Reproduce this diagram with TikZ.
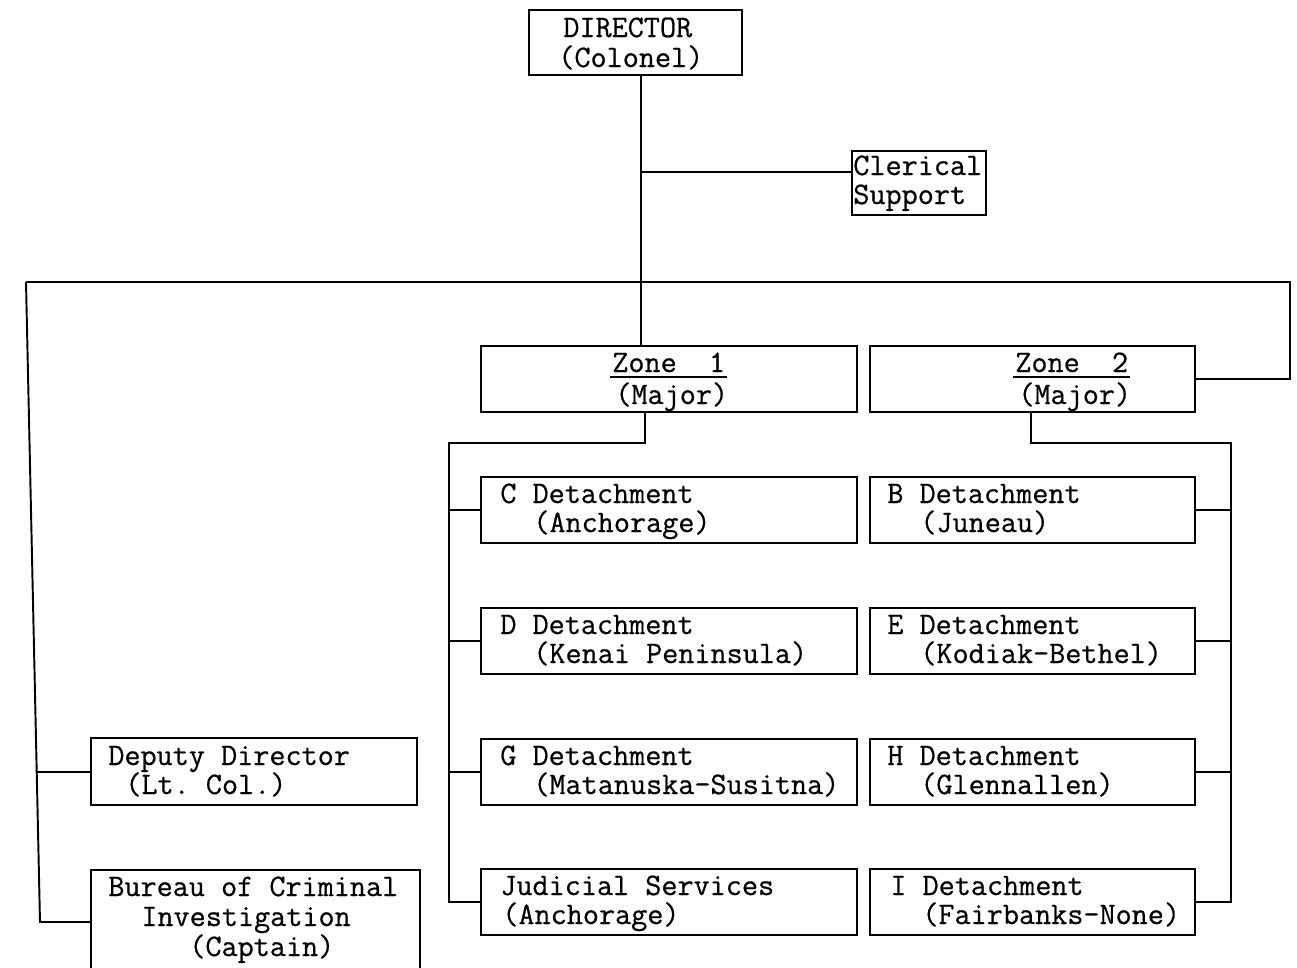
\documentclass[tikz,border=0pt]{standalone}
\usepackage{fontspec}
\setmonofont[FakeBold=0.6]{Latin Modern Mono}
\frenchspacing
\begin{document}
\begin{tikzpicture}[x=0.02cm,y=-0.02cm,
  bx/.style 2 args={draw=black, line width=1.1pt, minimum width=#1*0.02cm, minimum height=#2*0.02cm, inner sep=0pt, outer sep=0pt, anchor=north west},
  tx/.style={anchor=base west, inner sep=0pt, font=\ttfamily\fontsize{17.8}{19}\selectfont},
  cn/.style={draw=black, line width=1.1pt},
  ul/.style={draw=black, line width=1.2pt}]
\useasboundingbox (0,0) rectangle (1297,967);
\clip (0,0) rectangle (1297,967);
\fill[white] (0,0) rectangle (1297,967);

% boxes
\node[bx={213}{65}] (dir) at (529,10) {};
\node[bx={134}{64}] (cler) at (852,151) {};
\node[bx={376}{66}] (zone1) at (481,346) {};
\node[bx={325}{66}] (zone2) at (870,346) {};
\node[bx={376}{66}] (C) at (481,477) {};
\node[bx={376}{66}] (D) at (481,608) {};
\node[bx={376}{66}] (G) at (481,739) {};
\node[bx={376}{66}] (J) at (481,869) {};
\node[bx={325}{66}] (B) at (870,477) {};
\node[bx={325}{66}] (E) at (870,608) {};
\node[bx={325}{66}] (H) at (870,739) {};
\node[bx={325}{66}] (I) at (870,869) {};
\node[bx={326}{67}] (dep) at (91,738) {};
\node[bx={329}{120}] (bur) at (91,870) {};

% texts
\node[tx] (t1) at (563,37) {DIRECTOR};
\node[tx] (t2) at (558,67) {(Colonel)};
\node[tx] (t3) at (853,175) {Clerical};
\node[tx] (t4) at (853,204) {Support};
\node[tx] (t5) at (612,372) {Zone\ \ 1};
\node[tx] (t6) at (615,404) {(Major)};
\node[tx] (t7) at (1015,372) {Zone\ \ 2};
\node[tx] (t8) at (1018,404) {(Major)};
\node[tx] (t9) at (500,503) {C Detachment};
\node[tx] (t10) at (533,532) {(Anchorage)};
\node[tx] (t11) at (500,634) {D Detachment};
\node[tx] (t12) at (533,663) {(Kenai Peninsula)};
\node[tx] (t13) at (500,765) {G Detachment};
\node[tx] (t14) at (533,794) {(Matanuska-Susitna)};
\node[tx] (t15) at (500,895) {Judicial Services};
\node[tx] (t16) at (502,924) {(Anchorage)};
\node[tx] (t17) at (887,503) {B Detachment};
\node[tx] (t18) at (920,532) {(Juneau)};
\node[tx] (t19) at (887,634) {E Detachment};
\node[tx] (t20) at (920,663) {(Kodiak-Bethel)};
\node[tx] (t21) at (887,765) {H Detachment};
\node[tx] (t22) at (920,794) {(Glennallen)};
\node[tx] (t23) at (890,895) {I Detachment};
\node[tx] (t24) at (922,924) {(Fairbanks-None)};
\node[tx] (t25) at (108,765) {Deputy Director};
\node[tx] (t26) at (125,794) {(Lt. Col.)};
\node[tx] (t27) at (108,896) {Bureau of Criminal};
\node[tx] (t28) at (141,926) {Investigation};
\node[tx] (t29) at (189,956) {(Captain)};

% underlines of the zone titles
\draw[ul] ([xshift=-1pt,yshift=-2.8pt]t5.base west) -- ([xshift=1pt,yshift=-2.8pt]t5.base east);
\draw[ul] ([xshift=-1pt,yshift=-2.8pt]t7.base west) -- ([xshift=1pt,yshift=-2.8pt]t7.base east);

% junction coordinates
\coordinate (dj) at (641,75);
\coordinate (cj) at (641,172);
\coordinate (tl) at (26,282);
\coordinate (tr) at (1290,282);
\coordinate (bl) at (40,922);
\coordinate (dpj) at (37,772);
\coordinate (z1a) at (645,412);
\coordinate (z1b) at (645,443);
\coordinate (z1c) at (449,443);
\coordinate (z1d) at (449,902);
\coordinate (z2a) at (1031,412);
\coordinate (z2b) at (1031,443);
\coordinate (z2c) at (1231,443);
\coordinate (z2d) at (1231,902);

% connectors
\draw[cn] (dj) -- (dj |- zone1.north);
\draw[cn] (cj) -- (cj -| cler.west);
\draw[cn] (tl) -- (tr) |- (zone2.east);
\draw[cn] (tl) -- (bl) -- (bl -| bur.west);
\draw[cn] (dpj) -- (dpj -| dep.west);
\draw[cn] (z1a) -- (z1b) -- (z1c) -- (z1d) -- (z1d -| J.west);
\draw[cn] (z1c |- C.west) -- (C.west);
\draw[cn] (z1c |- D.west) -- (D.west);
\draw[cn] (z1c |- G.west) -- (G.west);
\draw[cn] (z2a) -- (z2b) -- (z2c) -- (z2d) -- (z2d -| I.east);
\draw[cn] (z2c |- B.east) -- (B.east);
\draw[cn] (z2c |- E.east) -- (E.east);
\draw[cn] (z2c |- H.east) -- (H.east);
\end{tikzpicture}
\end{document}
